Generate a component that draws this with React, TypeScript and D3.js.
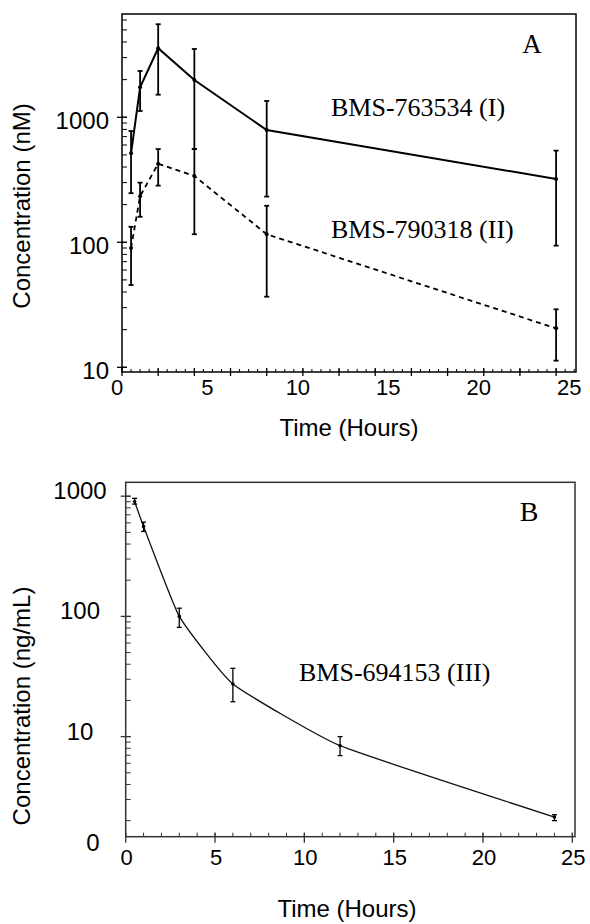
import React from "react";
import * as d3 from "d3";

// ---- Panel A data (nM) ----
const timesA = [0.5, 1, 2, 4, 8, 24];
const seriesI = [515, 1738, 3565, 1987, 791, 321];
const seriesILow = [247, 1123, 1516, 557, 232, 94];
const seriesIHigh = [776, 2346, 5548, 3518, 1350, 541];
const seriesII = [90, 234, 425, 339, 116, 20.5];
const seriesIILow = [45.5, 160, 284, 116, 36.7, 11.3];
const seriesIIHigh = [133, 300, 557, 557, 196, 29.1];
const xTicksA = [0, 5, 10, 15, 20, 25];
const yTicksA = [10, 100, 1000];

// ---- Panel B data (ng/mL) ----
const timesB = [0.5, 1, 3, 6, 12, 24];
const seriesIII = [904, 560, 100, 27.4, 8.4, 2.14];
const seriesIIILow = [860, 509, 81, 19.5, 6.95, 2.0];
const seriesIIIHigh = [960, 608, 117, 37, 10, 2.24];
const xTicksB = [0, 5, 10, 15, 20, 25];
const yTicksB = [10, 100, 1000];

const SANS = "'Liberation Sans', Arial, sans-serif";
const SERIF = "'Liberation Serif', 'Times New Roman', serif";

function logMinor(domain: [number, number]) {
  const out: number[] = [];
  for (let e = -1; e <= 4; e++) {
    for (let m = 1; m <= 9; m++) {
      const v = m * Math.pow(10, e);
      if (v >= domain[0] && v <= domain[1]) out.push(v);
    }
  }
  return out;
}

function ErrorBars({ xs, lo, hi, x, y, sw }: any) {
  return (
    <g stroke="#000" strokeWidth={sw}>
      {xs.map((t: number, i: number) => (
        <g key={i}>
          <line x1={x(t)} x2={x(t)} y1={y(lo[i])} y2={y(hi[i])} />
          <line x1={x(t) - 2.5} x2={x(t) + 2.5} y1={y(lo[i])} y2={y(lo[i])} />
          <line x1={x(t) - 2.5} x2={x(t) + 2.5} y1={y(hi[i])} y2={y(hi[i])} />
        </g>
      ))}
    </g>
  );
}

export default function App() {
  // Panel A scales
  const xA = d3.scaleLinear().domain([0, 25.1]).range([122, 576]);
  const yDomA: [number, number] = [9.17, 6700];
  const yA = d3.scaleLog().domain(yDomA).range([372, 14]);
  // Panel B scales
  const xB = d3.scaleLinear().domain([0, 25.15]).range([125.7, 575]);
  const yDomB: [number, number] = [1.47, 1305];
  const yB = d3.scaleLog().domain(yDomB).range([836.7, 482.3]);

  const lineA = (vals: number[]) =>
    d3
      .line<number>()
      .x((_, i) => xA(timesA[i]))
      .y((v) => yA(v))(vals) as string;
  const lineB = d3
    .line<number>()
    .x((_, i) => xB(timesB[i]))
    .y((v) => yB(v))
    .curve(d3.curveCardinal.tension(0.6))(seriesIII) as string;

  const [ax0, ax1] = xA.range();
  const [ay0, ay1] = yA.range();
  const [bx0, bx1] = xB.range();
  const [by0, by1] = yB.range();

  const minorXA = d3.range(0, 25.01, 0.5);
  const majorXA = d3.range(0, 25, 2);
  const minorXB = d3.range(0, 25.01, 1);
  const majorXB = d3.range(0, 25.01, 5);

  return (
    <svg
      width={590}
      height={924}
      style={{ position: "absolute", left: 0, top: 0, background: "#fff" }}
    >
      <rect x={0} y={0} width={590} height={924} fill="#fff" />
      {/* ================= Panel A ================= */}
      <g>
        <rect x={ax0} y={ay1} width={ax1 - ax0} height={ay0 - ay1} fill="none" stroke="#000" strokeWidth={1.5} />
        <g stroke="#000" strokeWidth={1}>
          {minorXA.map((t) => (
            <line key={"mx" + t} x1={xA(t)} x2={xA(t)} y1={ay0} y2={ay0 - 3} />
          ))}
          {majorXA.map((t) => (
            <line key={"Mx" + t} x1={xA(t)} x2={xA(t)} y1={ay0 + 4} y2={ay0 - 4} strokeWidth={1.3} />
          ))}
          {logMinor(yDomA).map((v) => (
            <line key={"my" + v} x1={ax0} x2={ax0 + 5} y1={yA(v)} y2={yA(v)} />
          ))}
          {yTicksA.map((v) => (
            <line key={"My" + v} x1={ax0 - 5} x2={ax0 + 5} y1={yA(v)} y2={yA(v)} strokeWidth={1.3} />
          ))}
        </g>
        {xTicksA.map((t) => (
          <text key={"lx" + t} x={xA(t) - 5} y={395} fontFamily={SANS} fontSize={22} textAnchor="middle">
            {t}
          </text>
        ))}
        {yTicksA.map((v) => (
          <text key={"ly" + v} x={109} y={yA(v) + 12} fontFamily={SANS} fontSize={24} textAnchor="end">
            {v}
          </text>
        ))}
        <text x={349} y={436} fontFamily={SANS} fontSize={24} textAnchor="middle">
          Time (Hours)
        </text>
        <text
          transform={`translate(30,${(ay0 + ay1) / 2 + 13}) rotate(-90)`}
          fontFamily={SANS}
          fontSize={24}
          textAnchor="middle"
        >
          Concentration (nM)
        </text>
        <path d={lineA(seriesI)} fill="none" stroke="#000" strokeWidth={2} />
        <path d={lineA(seriesII)} fill="none" stroke="#000" strokeWidth={1.8} strokeDasharray="5,4" />
        <ErrorBars xs={timesA} lo={seriesILow} hi={seriesIHigh} x={xA} y={yA} sw={1.8} />
        <ErrorBars xs={timesA} lo={seriesIILow} hi={seriesIIHigh} x={xA} y={yA} sw={1.8} />
        {timesA.map((t, i) => (
          <circle key={"pI" + i} cx={xA(t)} cy={yA(seriesI[i])} r={2} fill="#000" />
        ))}
        {timesA.map((t, i) => (
          <circle key={"pII" + i} cx={xA(t)} cy={yA(seriesII[i])} r={2} fill="#000" />
        ))}
        <text x={532} y={53} fontFamily={SERIF} fontSize={27} textAnchor="middle">
          A
        </text>
        <text x={331} y={116} fontFamily={SERIF} fontSize={26}>
          BMS-763534 (I)
        </text>
        <text x={331} y={238} fontFamily={SERIF} fontSize={26}>
          BMS-790318 (II)
        </text>
      </g>

      {/* ================= Panel B ================= */}
      <g>
        <rect x={bx0} y={by1} width={bx1 - bx0} height={by0 - by1} fill="none" stroke="#333" strokeWidth={1.5} />
        <g stroke="#333" strokeWidth={1}>
          {minorXB.map((t) => (
            <line key={"mx" + t} x1={xB(t)} x2={xB(t)} y1={by0} y2={by0 - 4} />
          ))}
          {majorXB.map((t) => (
            <line key={"Mx" + t} x1={xB(t)} x2={xB(t)} y1={by0 + 6} y2={by0 - 4} strokeWidth={1.3} />
          ))}
          {logMinor(yDomB).map((v) => (
            <line key={"my" + v} x1={bx0} x2={bx0 + 5} y1={yB(v)} y2={yB(v)} />
          ))}
          {yTicksB.map((v) => (
            <line key={"My" + v} x1={bx0 - 5} x2={bx0 + 5} y1={yB(v)} y2={yB(v)} strokeWidth={1.3} />
          ))}
        </g>
        {xTicksB.map((t) => (
          <text key={"lx" + t} x={xB(t) + 1} y={865} fontFamily={SANS} fontSize={22} textAnchor="middle">
            {t}
          </text>
        ))}
        {yTicksB.map((v) => (
          <text key={"ly" + v} x={80} y={yB(v) + 3} fontFamily={SANS} fontSize={24} textAnchor="middle">
            {v}
          </text>
        ))}
        <text x={93} y={851} fontFamily={SANS} fontSize={24} textAnchor="middle">
          0
        </text>
        <text x={347} y={917} fontFamily={SANS} fontSize={24} textAnchor="middle">
          Time (Hours)
        </text>
        <text
          transform={`translate(30,706) rotate(-90)`}
          fontFamily={SANS}
          fontSize={24}
          textAnchor="middle"
        >
          Concentration (ng/mL)
        </text>
        <path d={lineB} fill="none" stroke="#111" strokeWidth={1.3} />
        <ErrorBars xs={timesB} lo={seriesIIILow} hi={seriesIIIHigh} x={xB} y={yB} sw={1.3} />
        {timesB.map((t, i) => (
          <circle key={"pIII" + i} cx={xB(t)} cy={yB(seriesIII[i])} r={1.8} fill="#000" />
        ))}
        <text x={529} y={521} fontFamily={SERIF} fontSize={28} textAnchor="middle">
          B
        </text>
        <text x={299} y={681} fontFamily={SERIF} fontSize={26}>
          BMS-694153 (III)
        </text>
      </g>
    </svg>
  );
}
